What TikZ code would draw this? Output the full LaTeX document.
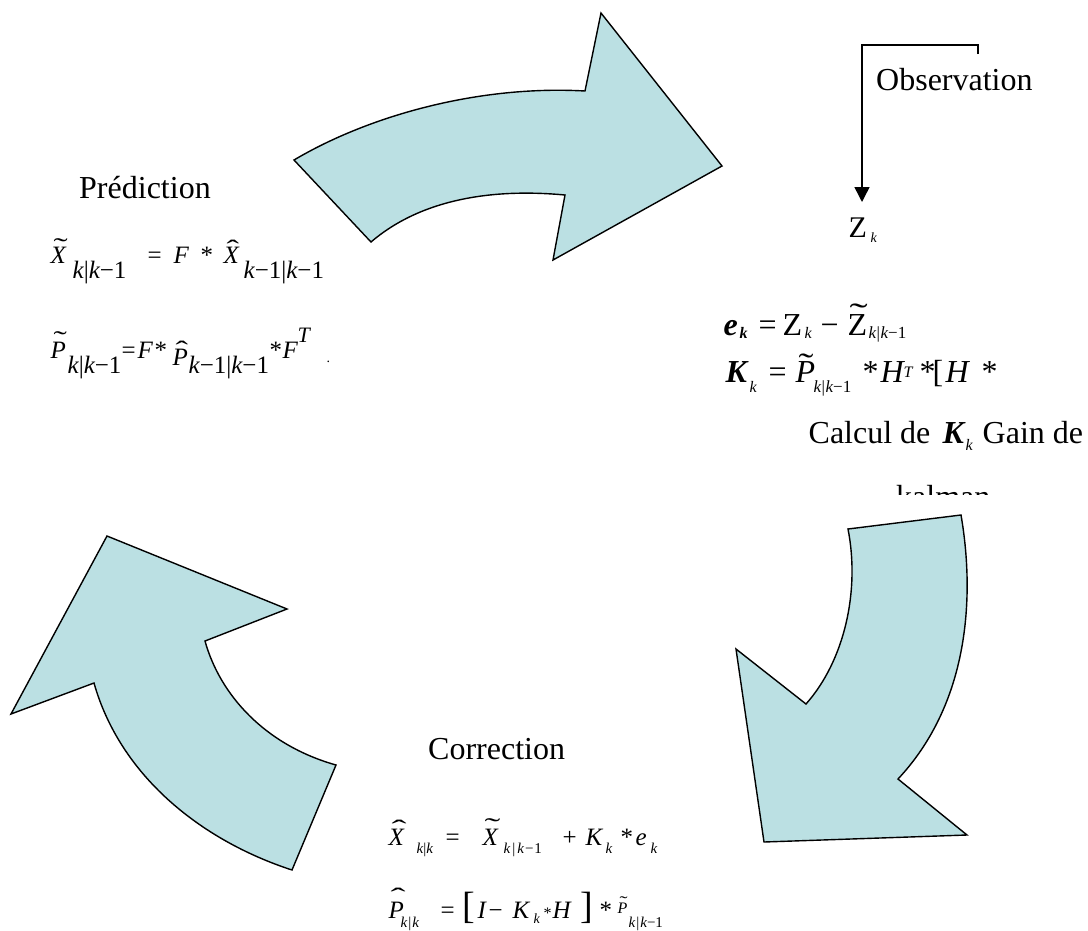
\documentclass[tikz,border=0pt]{standalone}
\usepackage{fontspec}
\setmainfont{Liberation Serif}
\usepackage{graphicx}
\usetikzlibrary{arrows.meta}
\definecolor{arrowfill}{RGB}{187,224,227}
\newcommand\fs[1]{\fontsize{#1pt}{#1pt}\selectfont}
\newcommand\at[3]{\rlap{\kern#1pt\raisebox{#2pt}{#3}}}
\newcommand\ri[2]{{\fs{#1}\itshape #2}}
\newcommand\rr[2]{{\fs{#1}#2}}
\newcommand\rbi[2]{{\fs{#1}\bfseries\itshape #2}}
\newcommand\tld[2]{\scalebox{#2}[1]{\fs{#1}\char"02DC}}
\newcommand\hatc[2]{\scalebox{#2}[1]{\fs{#1}\char"02C6}}
\begin{document}
\begin{tikzpicture}[x=1pt,y=-1pt,
  bigarrow/.style={fill=arrowfill,draw=black,line width=1.4pt,line join=miter},
  txt/.style={inner sep=0pt,anchor=base west},
  conn/.style={draw=black,line width=1.5pt,-{Triangle[length=15pt,width=15pt]}}]
\fill[white] (0,0) rectangle (1088,930);
\useasboundingbox (0,0) rectangle (1088,930);

% curved arrows
\draw[bigarrow] (294,160) .. controls (370,115) and (480,85) .. (585,91) -- (601,13) -- (722,166) -- (553,260) -- (565,195) .. controls (490,188) and (420,200) .. (371,242) -- cycle;
\draw[bigarrow] (11,714) -- (107,536) -- (287,609) -- (205,641) .. controls (220,695) and (265,745) .. (336,765) -- (292,870) .. controls (200,840) and (120,775) .. (94,683) -- cycle;
\draw[bigarrow] (848,529) -- (961,515) .. controls (974,590) and (972,700) .. (898,779) -- (967,835) -- (764,842) -- (736,649) -- (806,704) .. controls (845,660) and (860,590) .. (848,529) -- cycle;

% Prediction
\node[txt] (pred) at (79,198) {\rr{32}{Prédiction}};
\node[txt] (p1) at (0,263) {%
\at{50}{0}{\ri{25}{X}}%
\at{53}{7.5}{\tld{25}{1.7}}%
\at{72}{-15}{\ri{25}{k}\rr{25}{|}\ri{25}{k}\rr{25}{−1}}%
\at{147}{0}{\rr{25}{=}}%
\at{173}{0}{\ri{25}{F}}%
\at{200}{0}{\rr{25}{*}}%
\at{223}{0}{\ri{25}{X}}%
\at{226}{6}{\hatc{25}{1.5}}%
\at{243}{-15}{\ri{25}{k}\rr{25}{−1|}\ri{25}{k}\rr{25}{−1}}%
};
\node[txt] (p2) at (0,358) {%
\at{50}{0}{\ri{25}{P}}%
\at{53}{10}{\tld{25}{1.6}}%
\at{67}{-15}{\ri{25}{k}\rr{25}{|}\ri{25}{k}\rr{25}{−1}}%
\at{121}{0}{\rr{25}{=}}%
\at{137}{0}{\ri{25}{F}}%
\at{154}{0}{\rr{25}{*}}%
\at{172}{-7}{\ri{25}{P}}%
\at{175}{0}{\hatc{25}{1.5}}%
\at{188}{-15}{\ri{25}{k}\rr{25}{−1|}\ri{25}{k}\rr{25}{−1}}%
\at{269}{0}{\rr{25}{*}}%
\at{282}{0}{\ri{25}{F}}%
\at{297}{16}{\ri{22}{T}}%
\at{326}{-4}{\rr{14}{.}}%
};

% Observation
\node[txt] (obs) at (876,90) {\rr{32}{Observation}};
\node[txt] (zk) at (0,237) {%
\at{848}{0}{\rr{30}{Z}}%
\at{870}{-5}{\ri{14}{k}}%
};
\coordinate (obsA) at (978,54);
\coordinate (obsB) at (862,202);
\draw[conn] (obsA) -- ++(0,-9) -| (obsB);

% Gain formulas
\node[txt] (r1) at (0,335) {%
\at{723}{0}{\rbi{32}{e}}%
\at{739}{-3}{\rbi{16}{k}}%
\at{758}{0}{\rr{32}{=}}%
\at{782}{0}{\rr{32}{Z}}%
\at{804}{-3}{\ri{16}{k}}%
\at{820}{0}{\rr{32}{−}}%
\at{847}{0}{\rr{32}{Z}}%
\at{849}{10}{\tld{32}{1.7}}%
\at{868}{-3}{\ri{17}{k}\rr{17}{\kern0.5pt|\kern0.5pt}\ri{17}{k}\rr{17}{−1}}%
};
\node[txt] (r2) at (0,382) {%
\at{725}{0}{\rbi{32}{K}}%
\at{749}{-10}{\ri{16}{k}}%
\at{768}{0}{\rr{32}{=}}%
\at{795}{0}{\ri{32}{P}}%
\at{798}{7}{\tld{32}{1.4}}%
\at{813}{-10}{\ri{17}{k}\rr{17}{\kern0.5pt|\kern0.5pt}\ri{17}{k}\rr{17}{−1}}%
\at{862}{0}{\rr{32}{*}}%
\at{880}{0}{\ri{32}{H}}%
\at{903}{5}{\ri{16}{T}}%
\at{919}{0}{\rr{32}{*}}%
\at{932}{0}{\rr{32}{[}}%
\at{945}{0}{\ri{32}{H}}%
\at{981}{0}{\rr{32}{*}}%
};
\node[txt] (calc) at (0,443) {%
\at{808}{0}{\rr{32}{Calcul de}}%
\at{942}{0}{\rbi{32}{K}}%
\at{965}{-7}{\ri{16}{k}}%
\at{982}{0}{\rr{32}{Gain de}}%
};
\begin{scope}
\clip (800,470) rectangle (1088,494);
\node[txt] (kal) at (896,507) {\rr{32}{kalman}};
\end{scope}

% Correction
\node[txt] (corr) at (428,759) {\rr{32}{Correction}};
\node[txt] (c1) at (0,845) {%
\at{388}{0}{\ri{25}{X}}%
\at{391}{8}{\hatc{25}{1.8}}%
\at{416}{-8}{\ri{15}{k}\rr{15}{|}\ri{15}{k}}%
\at{445}{0}{\rr{25}{=}}%
\at{482}{0}{\ri{25}{X}}%
\at{484}{9.5}{\tld{25}{1.9}}%
\at{503}{-8}{\ri{15}{k}\rr{15}{\kern2pt|\kern2pt}\ri{15}{k}\rr{15}{\kern1pt−\kern1pt1}}%
\at{562}{0}{\rr{25}{+}}%
\at{585}{0}{\ri{25}{K}}%
\at{605}{-8}{\ri{15}{k}}%
\at{620}{0}{\rr{25}{*}}%
\at{635}{0}{\ri{25}{e}}%
\at{650}{-8}{\ri{15}{k}}%
};
\begin{scope}
\clip (380,870) rectangle (667,930);
\node[txt] (c2) at (0,918) {%
\at{388}{0}{\ri{25}{P}}%
\at{390}{13}{\hatc{25}{1.8}}%
\at{400}{-9}{\ri{15}{k}\rr{15}{\kern1pt|\kern1pt}\ri{15}{k}}%
\at{440}{0}{\rr{25}{=}}%
\at{462}{0}{\rr{38}{[}}%
\at{477}{0}{\ri{25}{I}}%
\at{488}{0}{\rr{25}{−}}%
\at{512}{0}{\ri{25}{K}}%
\at{533}{-5}{\ri{14}{k}}%
\at{543}{0}{\rr{16}{*}}%
\at{552}{0}{\ri{25}{H}}%
\at{580}{0}{\rr{38}{]}}%
\at{599}{0}{\rr{25}{*}}%
\at{617}{5}{\ri{16}{P}}%
\at{619}{11}{\tld{16}{1.5}}%
\at{628}{-9}{\ri{15}{k}\rr{15}{\kern1pt|\kern1pt}\ri{15}{k}\rr{15}{−1}}%
};
\end{scope}
\end{tikzpicture}
\end{document}
